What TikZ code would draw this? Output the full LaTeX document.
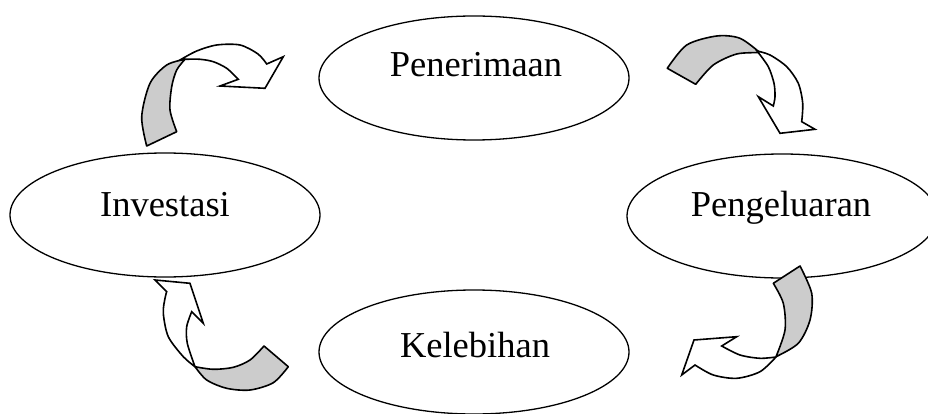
\documentclass[tikz,border=0pt]{standalone}
\usepackage{fontspec}
\setmainfont{Liberation Serif}
\usetikzlibrary{shapes.geometric}
\begin{document}
\begin{tikzpicture}[x=1pt,y=-1pt,
  ell/.style={ellipse,draw=black,fill=white,line width=1.3pt,minimum width=310pt,minimum height=124pt,inner sep=0pt},
  lbl/.style={anchor=base,inner sep=0pt,font=\fontsize{36.5}{40}\selectfont},
  back/.style={fill=black!20,draw=black,line width=1.6pt,line join=round},
  front/.style={fill=white,draw=black,line width=1.6pt,line join=miter}]
\useasboundingbox (0,0) rectangle (928,414);
\clip (0,0) rectangle (928,414);
\fill[white] (0,0) rectangle (928,414);
% ellipses
\node[ell] (pen) at (474,78) {};
\node[ell] (inv) at (165,215) {};
\node[ell] (peng) at (782,216) {};
\node[ell] (kel) at (474,352) {};
% labels
\node[lbl] (penT) at (476,77) {Penerimaan};
\node[lbl] (invT) at (165,216.7) {Investasi};
\node[lbl] (pengT) at (781,216.5) {Pengeluaran};
\node[lbl] (kelT) at (475,357) {Kelebihan};
% arrow top-left (Investasi -> Penerimaan)
\path[back] (146.7,146) -- (176.7,131.7)
  -- plot[smooth] coordinates {(176.7,131.7) (170,110) (171.7,86.7) (176.7,70) (185,59.3)}
  -- plot[smooth] coordinates {(185,59.3) (166.7,65) (150,83.3) (141.7,116.7) (146.7,146)} -- cycle;
\path[front] (180,60)
  -- plot[smooth] coordinates {(180,60) (196.7,51) (216.7,45) (240,45) (258,54) (266.7,64)}
  -- (283.3,56.7) -- (265,88.3) -- (220,86) -- (238.3,79.3)
  -- plot[smooth] coordinates {(238.3,79.3) (226.7,68.3) (213.3,61.7) (200,59.3) (185,59.3)} -- cycle;
% arrow top-right (Penerimaan -> Pengeluaran)
\path[back] (667.3,68.3) -- (695.7,84.3)
  -- plot[smooth] coordinates {(695.7,84.3) (713.3,65) (736.7,54) (760,52.7)}
  -- plot[smooth] coordinates {(760,52.7) (740,38.3) (716.7,36) (686.7,45) (667.3,68.3)} -- cycle;
\path[front] (757,51)
  -- plot[smooth] coordinates {(757,51) (768.3,66.7) (774,83.3) (775,96.7) (773.3,106)}
  -- (758.3,96.7) -- (780,133.3) -- (815,129.3) -- (801.7,121.7)
  -- plot[smooth] coordinates {(801.7,121.7) (802.7,103.3) (798.3,83.3) (786.7,66.7) (770,55) (757,51)} -- cycle;
% arrow bottom-right (Pengeluaran -> Kelebihan)
\path[back] (800,266) -- (773.3,283.3)
  -- plot[smooth] coordinates {(773.3,283.3) (783.3,303.3) (785,330) (776,356.7)}
  -- plot[smooth] coordinates {(776,356.7) (798.3,343.3) (810,320) (811.7,293.3) (800,266)} -- cycle;
\path[front] (776,357)
  -- plot[smooth] coordinates {(776,357) (760,358.3) (740,355) (721.7,346)}
  -- (736.7,336.7) -- (694,340) -- (681.7,375) -- (695,365)
  -- plot[smooth] coordinates {(695,365) (713.3,375) (736.7,378.3) (760,371.7) (776,357)} -- cycle;
% arrow bottom-left (Kelebihan -> Investasi)
\path[back] (264,346) -- (288.3,366.7)
  -- plot[smooth] coordinates {(288.3,366.7) (273.3,382.7) (250,390) (226.7,388.3) (206.7,380) (195,366.7)}
  -- plot[smooth] coordinates {(195,366.7) (213.3,369.3) (233.3,367.3) (250,360) (264,346)} -- cycle;
\path[front] (195,366.7)
  -- plot[smooth] coordinates {(195,366.7) (183.3,356.7) (168.3,336.7) (163.3,313.3) (165,298.3) (166.7,291.7)}
  -- (155,280) -- (190,283.3) -- (203.3,323.3) -- (191.7,311.7)
  -- plot[smooth] coordinates {(191.7,311.7) (186.7,326.7) (187.3,343.3) (195,366.7)} -- cycle;
\end{tikzpicture}
\end{document}
